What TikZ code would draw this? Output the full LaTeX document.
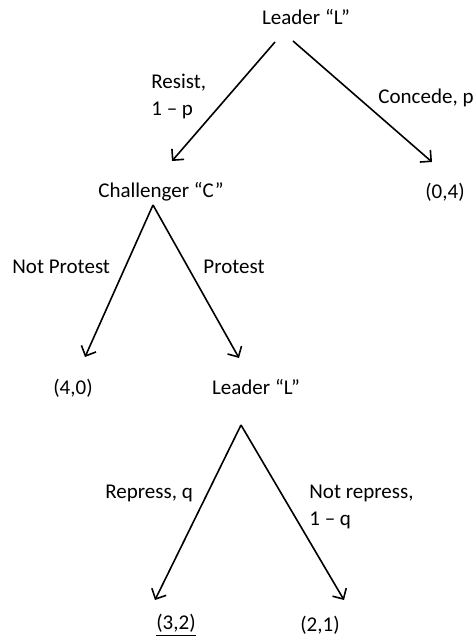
\documentclass[tikz,border=0pt]{standalone}
\usepackage{fontspec}
\setmainfont{Carlito}
\usetikzlibrary{arrows.meta}
\tikzset{player/.style={inner sep=0mm},
         payoff/.style={inner sep=0mm},
         choice/.style={inner sep=0mm, align=left, anchor=west},
         move/.style={line width=0.8pt, -{Straight Barb[length=4pt,width=8pt]}}}

\begin{document}
\begin{tikzpicture}[x=0.5pt, y=-0.5pt, font=\fontsize{10.5}{13.5}\selectfont]
    \useasboundingbox (0,0) rectangle (474,638);

    \node (L1) [player] at (306,17) {Leader “L”};
    \node (C) [player] at (161,192) {Challenger “C”};
    \node (p04) [payoff] at (445,192) {(0,4)};

    \coordinate (L1w) at (275,42);
    \coordinate (L1e) at (293,41);
    \coordinate (Cin) at (172,161);
    \coordinate (p04in) at (432,162);

    \draw[move] (L1w) -- (Cin);
    \draw[move] (L1e) -- (p04in);
    \node (resist) [choice] at (151,96) {Resist,\\1 -- p};
    \node (concede) [choice] at (378,98) {Concede, p};

    \node (p40) [payoff] at (73,388) {(4,0)};
    \node (L2) [player] at (256,387) {Leader “L”};

    \coordinate (Cs) at (153,205);
    \coordinate (p40in) at (85,357);
    \coordinate (L2in) at (239,358);

    \draw[move] (Cs) -- (p40in);
    \draw[move] (Cs) -- (L2in);
    \node (noprot) [choice] at (12,267) {Not Protest};
    \node (prot) [choice] at (203,267) {Protest};

    \node (p32) [payoff] at (176,625) {\underline{(3,2)}};
    \node (p21) [payoff] at (320,625) {(2,1)};

    \coordinate (L2s) at (241,425);
    \coordinate (p32in) at (155,600);
    \coordinate (p21in) at (344,600);

    \draw[move] (L2s) -- (p32in);
    \draw[move] (L2s) -- (p21in);
    \node (repress) [choice] at (105,493) {Repress, q};
    \node (norepress) [choice] at (309,507) {Not repress,\\1 -- q};
\end{tikzpicture}
\end{document}
